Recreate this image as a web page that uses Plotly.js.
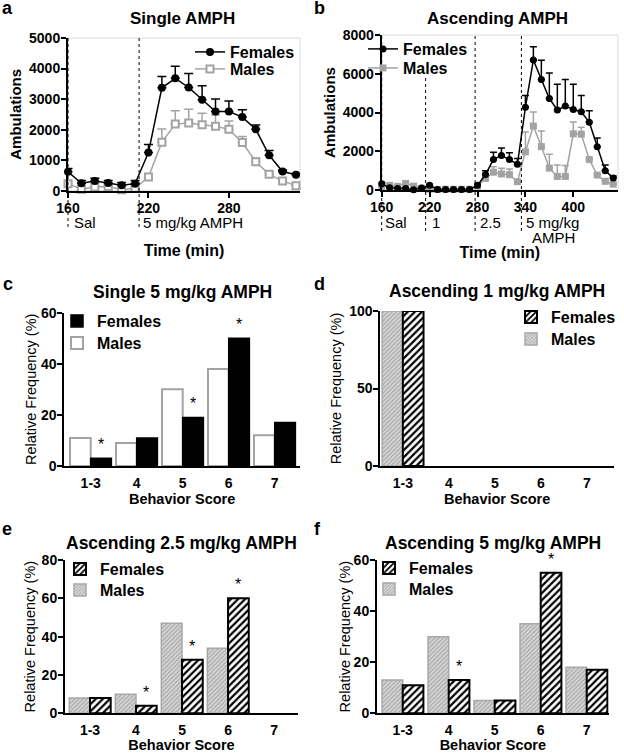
<!DOCTYPE html>
<html><head><meta charset="utf-8">
<script src="https://cdn.plot.ly/plotly-3.0.1.min.js"></script>
<style>html,body{margin:0;padding:0;background:#fff}</style>
</head><body><div id="chart" style="width:624px;height:753px"></div>
<script>
// ---------- DATA ----------
// Panel a: Single AMPH (time in min, ambulations)
const timesA = [160,170,180,190,200,210,220,230,240,250,260,270,280,290,300,310,320,330];
const femA    = [620,245,315,250,175,230,1250,3370,3680,3380,2980,2590,2590,2410,2010,1160,630,525];
const femAErr = [110,90,90,80,95,100,265,370,395,460,460,410,350,240,145,155,50,40];
const maleA    = [230,50,120,140,35,80,450,1590,2180,2220,2160,2110,2010,1575,950,535,320,165];
const maleAErr = [60,30,30,30,30,40,100,430,440,450,380,370,275,200,110,80,50,40];
const doseTimesA = [160,213];
const doseLabelsA = ['Sal','5 mg/kg AMPH'];

// Panel b: Ascending AMPH
const timesB = [160,170,180,190,200,210,220,230,240,250,260,270,280,290,300,310,320,330,340,350,360,370,380,390,400,410,420,430,440,450];
const femB    = [320,110,80,80,15,100,240,30,30,30,30,30,240,800,1580,1775,1570,1330,4265,6710,5700,4720,4130,4335,4155,4035,3500,2230,1000,620];
const femBErr = [80,50,40,40,30,40,60,20,20,20,20,20,60,200,370,390,355,300,615,690,995,1320,1330,1365,1305,840,595,450,287,100];
const maleB    = [190,240,190,340,200,90,40,30,40,40,40,40,200,600,920,830,790,430,1970,3300,2240,1130,700,700,2900,2880,1580,770,450,300];
const maleBErr = [50,50,50,50,50,40,30,20,20,20,20,20,80,150,280,290,290,100,1030,730,800,715,587,560,610,356,60,60,40,40];
const doseTimesB = [160,215,277,335];
const doseLabelsB = ['Sal','1','2.5','5 mg/kg'];

// Behavior score distributions (relative frequency %)
const scoreCats = ['1-3','4','5','6','7'];
const maleC = [11,9,30,38,12];
const femC  = [3,11,19,50,17];
const starsC = ['1-3','5','6'];
const maleD = [100,0,0,0,0];
const femD  = [100,0,0,0,0];
const starsD = [];
const maleE = [8,10,47,34,0];
const femE  = [8,4,28,60,0];
const starsE = ['4','5','6'];
const maleF = [13,30,5,35,18];
const femF  = [11,13,5,55,17];
const starsF = ['4','6'];

// ---------- STYLE / LAYOUT ----------
const W = 624, H = 753;
const PX = p => p / W;
const PY = p => 1 - p / H;
const FF = 'Liberation Sans, Arial, Helvetica, sans-serif';
const BLACK = '#000000', GRAY = '#a3a3a3';
const BARGAP = 0.1;

const traces = [];
function errBar(arr, color, w) {
  return {type:'data', symmetric:false, array:arr, arrayminus:arr.map(()=>0), color:color, thickness:1.5, width:w, visible:true};
}
// panel a
traces.push({type:'scatter', mode:'lines+markers', x:timesA, y:maleA, xaxis:'x', yaxis:'y', name:'Males', legend:'legend2',
  line:{color:GRAY,width:1.5}, marker:{symbol:'square', size:7, color:'white', line:{color:GRAY,width:2}},
  error_y:errBar(maleAErr, GRAY, 4.5), cliponaxis:false});
traces.push({type:'scatter', mode:'lines+markers', x:timesA, y:femA, xaxis:'x', yaxis:'y', name:'Females', legend:'legend',
  line:{color:BLACK,width:1.5}, marker:{symbol:'circle', size:8, color:BLACK},
  error_y:errBar(femAErr, BLACK, 4.5), cliponaxis:false});
// panel b
traces.push({type:'scatter', mode:'lines+markers', x:timesB, y:maleB, xaxis:'x2', yaxis:'y2', name:'Males', legend:'legend4',
  line:{color:GRAY,width:1.5}, marker:{symbol:'square', size:7, color:GRAY},
  error_y:errBar(maleBErr, GRAY, 3.5), cliponaxis:false});
traces.push({type:'scatter', mode:'lines+markers', x:timesB, y:femB, xaxis:'x2', yaxis:'y2', name:'Females', legend:'legend3',
  line:{color:BLACK,width:1.5}, marker:{symbol:'circle', size:7, color:BLACK},
  error_y:errBar(femBErr, BLACK, 3.5), cliponaxis:false});

// bar panels (empty categories drawn as no bar)
const noZero = arr => arr.map(v => v === 0 ? null : v);
const femHatch = {color:'white', pattern:{shape:'/', fgcolor:BLACK, bgcolor:'white', size:5, solidity:0.45}, line:{color:BLACK,width:2}};
const maleHatch = {color:'#cfcfcf', pattern:{shape:'/', fgcolor:'#9c9c9c', bgcolor:'#d4d4d4', size:3, solidity:0.3}, line:{color:'#a8a8a8',width:1.5}};
const barPanels = [
  {ax:'3', male:maleC, fem:femC, mm:{color:'white', line:{color:GRAY,width:2}}, fm:{color:BLACK, line:{color:BLACK,width:1.5}}, lf:'legend5', lm:'legend6'},
  {ax:'4', male:maleD, fem:femD, mm:maleHatch, fm:femHatch, lf:'legend7', lm:'legend8'},
  {ax:'5', male:maleE, fem:femE, mm:maleHatch, fm:femHatch, lf:'legend9', lm:'legend10'},
  {ax:'6', male:maleF, fem:femF, mm:maleHatch, fm:femHatch, lf:'legend11', lm:'legend12'}
];
barPanels.forEach(p => {
  traces.push({type:'bar', x:scoreCats, y:noZero(p.male), xaxis:'x'+p.ax, yaxis:'y'+p.ax, name:'Males', legend:p.lm, marker:p.mm});
  traces.push({type:'bar', x:scoreCats, y:noZero(p.fem), xaxis:'x'+p.ax, yaxis:'y'+p.ax, name:'Females', legend:p.lf, marker:p.fm});
});

// axes
const tickFont = {family:FF, size:14, color:BLACK, weight:'bold'};
function ax(extra) {
  return Object.assign({showline:true, linecolor:BLACK, linewidth:2, ticks:'outside', ticklen:5, tickwidth:2, tickcolor:BLACK,
    showgrid:false, zeroline:false, tickfont:tickFont, fixedrange:true, ticklabelstandoff:-2}, extra);
}
const titleBold = s => ({family:FF, size:s, color:BLACK, weight:'bold'});
const titleReg = s => ({family:FF, size:s, color:BLACK});
function catAx(dom, anchor, range) {
  return ax({domain:dom, anchor:anchor, type:'category', categoryarray:scoreCats, range:range,
    tickcolor:'rgba(0,0,0,0)', ticklen:3, ticklabelstandoff:0,
    title:{text:'Behavior Score', font:titleBold(14.5), standoff:1}});
}
function freqAx(dom, anchor, top, dt, standoff) {
  return ax({domain:dom, anchor:anchor, range:[0,top], dtick:dt, tick0:0,
    title:{text:'Relative Frequency (%)', font:titleReg(14.5), standoff:standoff}});
}

const layout = {
  width:W, height:H, margin:{l:0,r:0,t:0,b:0}, paper_bgcolor:'white', plot_bgcolor:'white',
  font:{family:FF, color:BLACK}, barmode:'group', bargap:BARGAP, bargroupgap:0, hovermode:false, showlegend:true,
  xaxis: ax({domain:[PX(68),PX(300)], anchor:'y', range:[160,333], tickvals:[160,220,280],
    title:{text:'Time (min)', font:titleBold(16), standoff:30}}),
  yaxis: ax({domain:[PY(190.7),PY(38)], anchor:'x', range:[0,5000], dtick:1000, tick0:0,
    title:{text:'Ambulations', font:titleBold(15), standoff:4}}),
  xaxis2: ax({domain:[PX(381.7),PX(618)], anchor:'y2', range:[160,456], tickvals:[160,220,280,340,400],
    title:{text:'Time (min)', font:titleBold(16), standoff:33}}),
  yaxis2: ax({domain:[PY(190),PY(35)], anchor:'x2', range:[0,8000], dtick:2000, tick0:0,
    title:{text:'Ambulations', font:titleBold(15), standoff:3}}),
  xaxis3: catAx([PX(64.3),PX(300)], 'y3', [-0.574,4.55]),
  yaxis3: freqAx([PY(466),PY(312.7)], 'x3', 60, 20, 1),
  xaxis4: catAx([PX(380.3),PX(614)], 'y4', [-0.49,4.59]),
  yaxis4: freqAx([PY(466),PY(311)], 'x4', 100, 50, 4),
  xaxis5: catAx([PX(65),PX(298)], 'y5', [-0.543,4.52]),
  yaxis5: freqAx([PY(713.3),PY(560)], 'x5', 80, 20, 3),
  xaxis6: catAx([PX(377),PX(608.7)], 'y6', [-0.559,4.478]),
  yaxis6: freqAx([PY(713.3),PY(560)], 'x6', 60, 20, 0),
  annotations:[], shapes:[]
};

// legends (one entry each, placed by text start / vertical centre in px)
const legFont = {family:FF, size:16, color:BLACK, weight:'bold'};
function leg(textX, cy) {
  return {x:PX(textX-37), y:PY(cy), xanchor:'left', yanchor:'middle', bgcolor:'rgba(0,0,0,0)', borderwidth:0,
    font:legFont, itemwidth:30, itemclick:false, itemdoubleclick:false, visible:true};
}
layout.legend   = leg(227, 52);  layout.legend2  = leg(227, 69);
layout.legend3  = leg(400, 49);  layout.legend4  = leg(400, 68);
layout.legend5  = leg(94, 321);  layout.legend6  = leg(94, 343);
layout.legend7  = leg(548, 317); layout.legend8  = leg(548, 339);
layout.legend9  = leg(97, 569);  layout.legend10 = leg(97, 590);
layout.legend11 = leg(406, 568); layout.legend12 = leg(406, 589);

// paper text: panel letters & titles
function paperText(text, x, y, size, bold, xanchor) {
  layout.annotations.push({text:text, xref:'paper', yref:'paper', x:PX(x), y:PY(y), xanchor:xanchor||'center', yanchor:'middle',
    showarrow:false, font:{family:FF, size:size, color:BLACK, weight:bold?'bold':'normal'}});
}
paperText('a', 0, 8, 18, true, 'left');
paperText('b', 312, 8, 18, true, 'left');
paperText('c', 1, 284, 18, true, 'left');
paperText('d', 312, 284, 18, true, 'left');
paperText('e', 0, 529, 18, true, 'left');
paperText('f', 312, 529, 18, true, 'left');
paperText('Single AMPH', 182, 18.5, 17, true);
paperText('Ascending AMPH', 497.5, 18.5, 17, true);
paperText('Single 5 mg/kg AMPH', 182, 292, 17.5, true);
paperText('Ascending 1 mg/kg AMPH', 497, 290.5, 17.5, true);
paperText('Ascending 2.5 mg/kg AMPH', 181.7, 542.5, 17.5, true);
paperText('Ascending 5 mg/kg AMPH', 493, 542.5, 17.5, true);

// dose markers (dotted lines + labels)
const dotLine = {color:BLACK, width:1, dash:'dot'};
function doseLines(times, labels, xa, r0, topPx, botPx, shifts) {
  times.forEach((t, i) => {
    const atStart = (t === r0);
    layout.shapes.push({type:'line', xref: atStart ? xa + ' domain' : xa, yref:'paper',
      x0: atStart ? 0 : t, x1: atStart ? 0 : t, y0:PY(botPx), y1:PY(topPx[i]), line:dotLine, layer:'above'});
    layout.annotations.push({text:labels[i], xref:xa, yref:'paper', x:t, y:PY(222.5), xanchor:'left', yanchor:'middle',
      xshift:shifts[i], showarrow:false, font:{family:FF, size:15, color:BLACK}});
  });
}
doseLines(doseTimesA, doseLabelsA, 'x', 160, [38,38], 227, [3.5,2]);
doseLines(doseTimesB, doseLabelsB, 'x2', 160, [35,76.7,35,35], 231, [1.3,4,3,3]);
layout.annotations.push({text:'AMPH', xref:'x2', yref:'paper', x:doseTimesB[3], y:PY(238), xanchor:'left', yanchor:'middle',
  xshift:9, showarrow:false, font:{family:FF, size:15, color:BLACK}});

// faint frames around panels a and b
['', '2'].forEach(n => {
  layout.shapes.push({type:'rect', xref:'x'+n+' domain', yref:'y'+n+' domain', x0:0, x1:1, y0:0, y1:1,
    line:{color:'#dadada', width:1}, layer:'below'});
});

// significance stars above female bars
const femOffset = (1 - BARGAP) / 4;
function stars(list, fem, n) {
  list.forEach(c => {
    const i = scoreCats.indexOf(c);
    layout.annotations.push({text:'*', xref:'x'+n, yref:'y'+n, x:i + femOffset, y:fem[i], xanchor:'center', yanchor:'bottom',
      yshift:3, showarrow:false, font:{family:FF, size:16, color:BLACK}});
  });
}
stars(starsC, femC, '3'); stars(starsD, femD, '4'); stars(starsE, femE, '5'); stars(starsF, femF, '6');

Plotly.newPlot('chart', traces, layout, {staticPlot:true, displayModeBar:false});
</script></body></html>
